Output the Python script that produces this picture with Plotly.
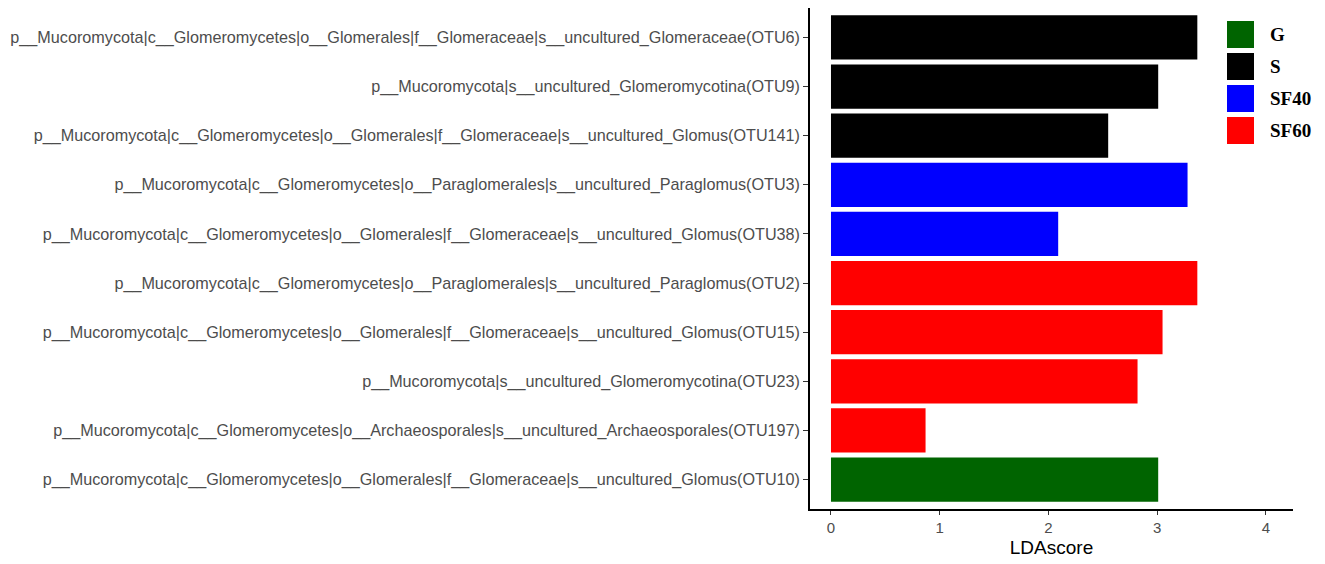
import plotly.graph_objects as go

# taxa listed top to bottom, as in the figure
taxa = [
    "p__Mucoromycota|c__Glomeromycetes|o__Glomerales|f__Glomeraceae|s__uncultured_Glomeraceae(OTU6)",
    "p__Mucoromycota|s__uncultured_Glomeromycotina(OTU9)",
    "p__Mucoromycota|c__Glomeromycetes|o__Glomerales|f__Glomeraceae|s__uncultured_Glomus(OTU141)",
    "p__Mucoromycota|c__Glomeromycetes|o__Paraglomerales|s__uncultured_Paraglomus(OTU3)",
    "p__Mucoromycota|c__Glomeromycetes|o__Glomerales|f__Glomeraceae|s__uncultured_Glomus(OTU38)",
    "p__Mucoromycota|c__Glomeromycetes|o__Paraglomerales|s__uncultured_Paraglomus(OTU2)",
    "p__Mucoromycota|c__Glomeromycetes|o__Glomerales|f__Glomeraceae|s__uncultured_Glomus(OTU15)",
    "p__Mucoromycota|s__uncultured_Glomeromycotina(OTU23)",
    "p__Mucoromycota|c__Glomeromycetes|o__Archaeosporales|s__uncultured_Archaeosporales(OTU197)",
    "p__Mucoromycota|c__Glomeromycetes|o__Glomerales|f__Glomeraceae|s__uncultured_Glomus(OTU10)",
]
lda_score = [3.37, 3.01, 2.55, 3.28, 2.09, 3.37, 3.05, 2.82, 0.87, 3.01]
group = ["S", "S", "S", "SF40", "SF40", "SF60", "SF60", "SF60", "SF60", "G"]

groups = ["G", "S", "SF40", "SF60"]
group_colors = {"G": "#006400", "S": "#000000", "SF40": "#0000FF", "SF60": "#FF0000"}

W, H = 1325, 564
ML, MR, MT, MB = 810, 32, 8, 55
PW, PH = W - ML - MR, H - MT - MB


def px_x(px):
    return (px - ML) / PW


def px_y(py):
    return 1 - (py - MT) / PH


fig = go.Figure()

fig.add_trace(go.Bar(
    y=taxa[::-1],
    x=lda_score[::-1],
    orientation='h',
    width=0.9,
    marker=dict(color=[group_colors[g] for g in group[::-1]], line=dict(width=0)),
    showlegend=False,
    hoverinfo='x+y',
))

# legend drawn by hand to get the large ggplot-style keys
for i, g in enumerate(groups):
    top = 21 + i * 32
    fig.add_shape(
        type='rect', xref='paper', yref='paper',
        x0=px_x(1227), x1=px_x(1254), y0=px_y(top), y1=px_y(top + 27),
        fillcolor=group_colors[g], line=dict(width=0),
    )
    fig.add_annotation(
        x=px_x(1268), y=px_y(top + 13.5), xref='paper', yref='paper',
        text=f"<b>{g}</b>", showarrow=False, xanchor='left', yanchor='middle',
        font=dict(family="Liberation Serif, Times New Roman, serif", size=19, color='black'),
    )

fig.update_layout(
    width=W, height=H,
    margin=dict(l=ML, r=MR, t=MT, b=MB),
    plot_bgcolor='white', paper_bgcolor='white',
    font=dict(family="Liberation Sans, Arial, sans-serif"),
    bargap=0.1,
)

fig.update_xaxes(
    range=[-0.193, 4.25],
    tickvals=[0, 1, 2, 3, 4],
    showgrid=False, zeroline=False,
    showline=True, linecolor='black', linewidth=1.5,
    ticks='outside', ticklen=4, tickcolor='#333333', tickwidth=1.2,
    tickfont=dict(size=15, color='#4D4D4D'),
    title=dict(text="LDAscore", font=dict(size=19, color='black'), standoff=6),
    automargin=False,
)

fig.update_yaxes(
    categoryorder='array', categoryarray=taxa[::-1],
    range=[-0.6, 9.6],
    showgrid=False, zeroline=False,
    showline=True, linecolor='black', linewidth=1.5,
    ticks='outside', ticklen=5, tickcolor='#333333', tickwidth=1.2,
    tickfont=dict(size=16.2, color='#4D4D4D'),
    automargin=False,
)

fig.write_html("out.html", config={'displayModeBar': False},
               post_script="document.body.style.margin='0px';")
